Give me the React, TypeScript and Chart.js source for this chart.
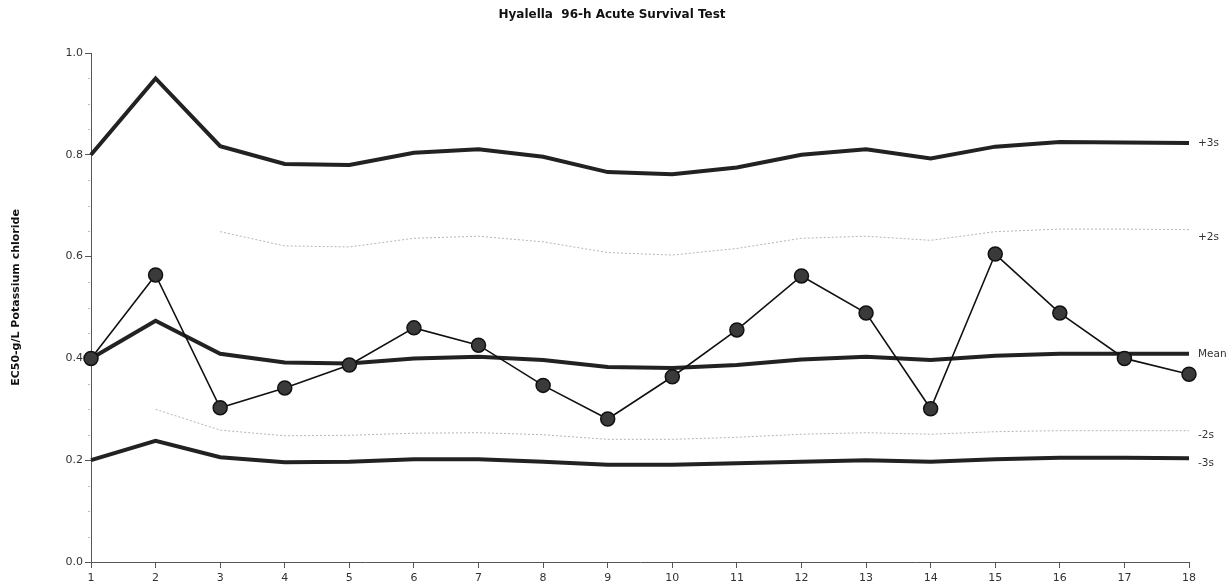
import React, { useEffect, useRef } from "react";
import { Chart, registerables } from "chart.js";

Chart.register(...registerables);

const TITLE = "Hyalella  96-h Acute Survival Test";
const Y_TITLE = "EC50-g/L Potassium chloride";
const runs = ["1","2","3","4","5","6","7","8","9","10","11","12","13","14","15","16","17","18"];
const ec50 = [0.40, 0.564, 0.303, 0.342, 0.387, 0.460, 0.426, 0.347, 0.281, 0.364, 0.456, 0.562, 0.489, 0.301, 0.605, 0.489, 0.400, 0.369];
const plus3s = [0.80, 0.950, 0.817, 0.782, 0.780, 0.804, 0.811, 0.796, 0.766, 0.762, 0.775, 0.800, 0.811, 0.793, 0.816, 0.825, 0.824, 0.823];
const plus2s = [null, null, 0.649, 0.621, 0.619, 0.636, 0.640, 0.629, 0.608, 0.603, 0.616, 0.636, 0.640, 0.632, 0.649, 0.654, 0.654, 0.653];
const mean = [0.40, 0.474, 0.409, 0.392, 0.390, 0.400, 0.403, 0.397, 0.383, 0.381, 0.387, 0.398, 0.403, 0.397, 0.405, 0.409, 0.409, 0.409];
const minus2s = [null, 0.300, 0.259, 0.248, 0.249, 0.253, 0.254, 0.250, 0.241, 0.241, 0.245, 0.251, 0.254, 0.251, 0.256, 0.258, 0.258, 0.258];
const minus3s = [0.20, 0.238, 0.206, 0.196, 0.197, 0.202, 0.202, 0.197, 0.191, 0.191, 0.194, 0.197, 0.200, 0.197, 0.202, 0.205, 0.205, 0.204];
const yTicks = [0, 0.2, 0.4, 0.6, 0.8, 1.0];
const yMinorTicks = [0.05, 0.1, 0.15, 0.25, 0.3, 0.35, 0.45, 0.5, 0.55, 0.65, 0.7, 0.75, 0.85, 0.9, 0.95];

const FONT = "'DejaVu Sans', Verdana, sans-serif";

const textPlugin = {
  id: "textPlugin",
  afterDatasetsDraw(chart: any) {
    const ctx = chart.ctx;
    const area = chart.chartArea;
    const yScale = chart.scales.y;
    ctx.save();
    // minor ticks
    ctx.strokeStyle = "#bbb";
    ctx.lineWidth = 1;
    yMinorTicks.forEach((v) => {
      const y = Math.round(yScale.getPixelForValue(v)) + 0.5;
      ctx.beginPath();
      ctx.moveTo(area.left - 3, y);
      ctx.lineTo(area.left - 1, y);
      ctx.stroke();
    });
    // title
    ctx.fillStyle = "#111";
    ctx.font = `bold 12px ${FONT}`;
    ctx.textAlign = "center";
    ctx.textBaseline = "middle";
    ctx.fillText(TITLE, 612, 15);
    // y title
    ctx.save();
    ctx.translate(16, (area.top + area.bottom) / 2 - 10);
    ctx.rotate(-Math.PI / 2);
    ctx.font = `bold 11px ${FONT}`;
    ctx.fillText(Y_TITLE, 0, 0);
    ctx.restore();
    // right labels
    ctx.font = `10.5px ${FONT}`;
    ctx.fillStyle = "#333";
    ctx.textAlign = "left";
    chart.data.datasets.forEach((ds: any, i: number) => {
      if (!ds.rightLabel) return;
      const meta = chart.getDatasetMeta(i);
      const pt = meta.data[meta.data.length - 1];
      ctx.fillText(ds.rightLabel, area.right + 9, pt.y + (ds.labelOffset || 0));
    });
    ctx.restore();
  },
};

export default function App() {
  const ref = useRef<HTMLCanvasElement>(null);
  useEffect(() => {
    const chart = new Chart(ref.current!, {
      type: "line",
      data: {
        labels: runs,
        datasets: [
          {
            label: "EC50",
            data: ec50,
            borderColor: "#111",
            borderWidth: 1.6,
            pointRadius: 7,
            pointBackgroundColor: "#3a3a3a",
            pointBorderColor: "#111",
            pointBorderWidth: 1.5,
            tension: 0,
          },
          {
            label: "+3s",
            rightLabel: "+3s",
            data: plus3s,
            borderColor: "#222",
            borderWidth: 4,
            pointRadius: 0,
            tension: 0,
          },
          {
            label: "+2s",
            rightLabel: "+2s",
            labelOffset: 8,
            data: plus2s,
            borderColor: "#b5b5b5",
            borderWidth: 1,
            borderDash: [2, 2],
            pointRadius: 0,
            tension: 0,
          },
          {
            label: "Mean",
            rightLabel: "Mean",
            data: mean,
            borderColor: "#222",
            borderWidth: 4,
            pointRadius: 0,
            tension: 0,
          },
          {
            label: "-2s",
            rightLabel: "-2s",
            labelOffset: 5,
            data: minus2s,
            borderColor: "#b5b5b5",
            borderWidth: 1,
            borderDash: [2, 2],
            pointRadius: 0,
            tension: 0,
          },
          {
            label: "-3s",
            rightLabel: "-3s",
            labelOffset: 5,
            data: minus3s,
            borderColor: "#222",
            borderWidth: 4,
            pointRadius: 0,
            tension: 0,
          },
        ] as any,
      },
      options: {
        animation: false,
        responsive: false,
        maintainAspectRatio: false,
        layout: { padding: { top: 53, right: 41, left: 0, bottom: 0 } },
        plugins: { legend: { display: false }, tooltip: { enabled: false }, title: { display: false } },
        scales: {
          x: {
            type: "category",
            offset: false,
            grid: { display: true, drawOnChartArea: false, tickLength: 6, color: "#555" },
            border: { display: true, color: "#555", width: 1 },
            ticks: { color: "#333", font: { family: FONT, size: 11 }, padding: 4, maxRotation: 0, autoSkip: false },
            afterFit(scale: any) { scale.height = 24; },
          },
          y: {
            min: 0,
            max: 1,
            afterBuildTicks(scale: any) { scale.ticks = yTicks.map((v) => ({ value: v })); },
            grid: { display: true, drawOnChartArea: false, tickLength: 6, color: "#555" },
            border: { display: true, color: "#555", width: 1 },
            ticks: {
              color: "#333",
              font: { family: FONT, size: 11 },
              padding: 2,
              callback: (v: any) => Number(v).toFixed(1),
            },
            afterFit(scale: any) { scale.width = 91; },
          },
        },
      },
      plugins: [textPlugin],
    } as any);
    return () => chart.destroy();
  }, []);
  return (
    <div style={{ position: "fixed", left: 0, top: 0, width: 1230, height: 586, background: "#fff" }}>
      <canvas ref={ref} width={1230} height={586} style={{ display: "block" }} />
    </div>
  );
}
